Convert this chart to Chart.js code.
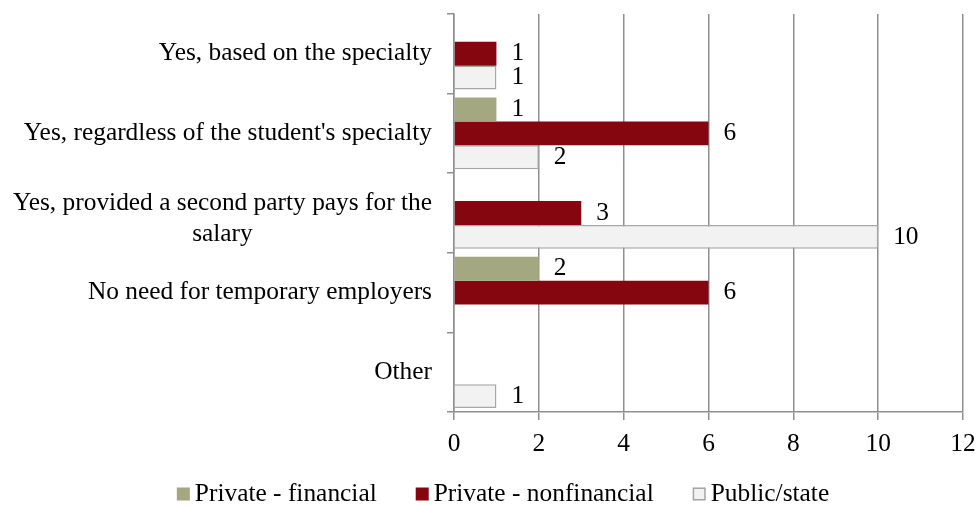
<!DOCTYPE html>
<html>
<head>
<meta charset="utf-8">
<script src="https://cdn.jsdelivr.net/npm/chart.js@4.4.1/dist/chart.umd.min.js"></script>
<style>
  html, body { margin: 0; padding: 0; background: #ffffff; }
  #wrap { width: 979px; height: 506px; position: relative; }
</style>
</head>
<body>
<div id="wrap"><canvas id="employChart"></canvas></div>
<script>
// Categories (top to bottom) and answers per sector
const categories = [
    "Yes, based on the specialty",
    "Yes, regardless of the student's specialty",
    ["Yes, provided a second party pays for the", "salary"],
    "No need for temporary employers",
    "Other"
];
const privateFinancial    = [null, 1, null, 2, null];
const privateNonfinancial = [1, 6, 3, 6, null];
const publicState         = [1, 2, 10, null, 1];
const xTicks = [0, 2, 4, 6, 8, 10, 12];

const FONT = '"Liberation Serif", "Times New Roman", serif';
const FSIZE = 25.4;
const GRID = "#8f8f8f";

// draws category names, value labels and the legend
const labelPlugin = {
    id: "labelPlugin",
    afterDatasetsDraw(chart) {
        const ctx = chart.ctx;
        const yScale = chart.scales.y;
        ctx.save();
        ctx.font = FSIZE + "px " + FONT;
        ctx.fillStyle = "#000";
        ctx.textBaseline = "middle";

        // value labels at the end of each bar
        chart.data.datasets.forEach((ds, di) => {
            const meta = chart.getDatasetMeta(di);
            meta.data.forEach((bar, i) => {
                const v = ds.data[i];
                if (v == null) return;
                ctx.textAlign = "left";
                ctx.fillText(String(v), bar.x + 15, bar.y);
            });
        });

        // category labels, multi-line ones centred on their widest line
        const rightX = 432;
        categories.forEach((lab, i) => {
            const y = yScale.getPixelForValue(i);
            if (Array.isArray(lab)) {
                const lh = 31;
                const w = Math.max(...lab.map(s => ctx.measureText(s).width));
                const cx = rightX - w / 2;
                ctx.textAlign = "center";
                lab.forEach((s, k) => {
                    ctx.fillText(s, cx, y + (k - (lab.length - 1) / 2) * lh + 6);
                });
            } else {
                ctx.textAlign = "right";
                ctx.fillText(lab, rightX, y);
            }
        });

        // legend along the bottom
        const items = chart.data.datasets.map(ds => ({
            text: ds.label, fill: ds.backgroundColor, stroke: ds.borderColor, bw: ds.borderWidth
        }));
        const box = 13, gapText = 5, gapItem = 39;
        const widths = items.map(it => box + gapText + ctx.measureText(it.text).width);
        const total = widths.reduce((a, b) => a + b, 0) + gapItem * (items.length - 1);
        let x = 503 - total / 2;
        const ly = 494;
        items.forEach((it, k) => {
            ctx.fillStyle = it.fill;
            ctx.fillRect(x, ly - box / 2, box, box);
            if (it.bw) {
                ctx.strokeStyle = it.stroke;
                ctx.lineWidth = 1.5;
                ctx.strokeRect(x + 0.75, ly - box / 2 + 0.75, box - 1.5, box - 1.5);
            }
            ctx.fillStyle = "#000";
            ctx.textAlign = "left";
            ctx.fillText(it.text, x + box + gapText, ly);
            x += widths[k] + gapItem;
        });
        ctx.restore();
    }
};

const ctx = document.getElementById("employChart").getContext("2d");
new Chart(ctx, {
    type: "bar",
    data: {
        labels: categories,
        datasets: [
            {
                label: "Private - financial",
                data: privateFinancial,
                backgroundColor: "#a3a880",
                borderColor: "#a3a880",
                borderWidth: 0
            },
            {
                label: "Private - nonfinancial",
                data: privateNonfinancial,
                backgroundColor: "#85060e",
                borderColor: "#85060e",
                borderWidth: 0
            },
            {
                label: "Public/state",
                data: publicState,
                backgroundColor: "#f2f2f2",
                borderColor: "#a6a6a6",
                borderWidth: 1.5
            }
        ]
    },
    options: {
        indexAxis: "y",
        responsive: true,
        maintainAspectRatio: false,
        animation: false,
        categoryPercentage: 0.9,
        barPercentage: 1.0,
        layout: { padding: { top: 14, right: 16, left: 0, bottom: 0 } },
        plugins: {
            legend: { display: false },
            tooltip: { enabled: false }
        },
        scales: {
            x: {
                min: 0,
                max: 12,
                afterBuildTicks: s => { s.ticks = xTicks.map(v => ({ value: v })); },
                afterFit: s => {
                    s.height = 94;
                    s.paddingLeft = 0;
                    s.paddingRight = 0;
                },
                ticks: {
                    color: "#000",
                    font: { family: FONT, size: FSIZE },
                    padding: 9
                },
                grid: { color: GRID, lineWidth: 1.5, tickLength: 8, tickColor: GRID },
                border: { color: GRID, width: 1.5 }
            },
            y: {
                afterFit: s => { s.width = 454; },
                ticks: { display: false },
                grid: {
                    offset: true,
                    drawOnChartArea: false,
                    drawTicks: true,
                    tickLength: 7,
                    color: GRID,
                    lineWidth: 1.5
                },
                border: { color: GRID, width: 1.5 }
            }
        }
    },
    plugins: [labelPlugin]
});
</script>
</body>
</html>
